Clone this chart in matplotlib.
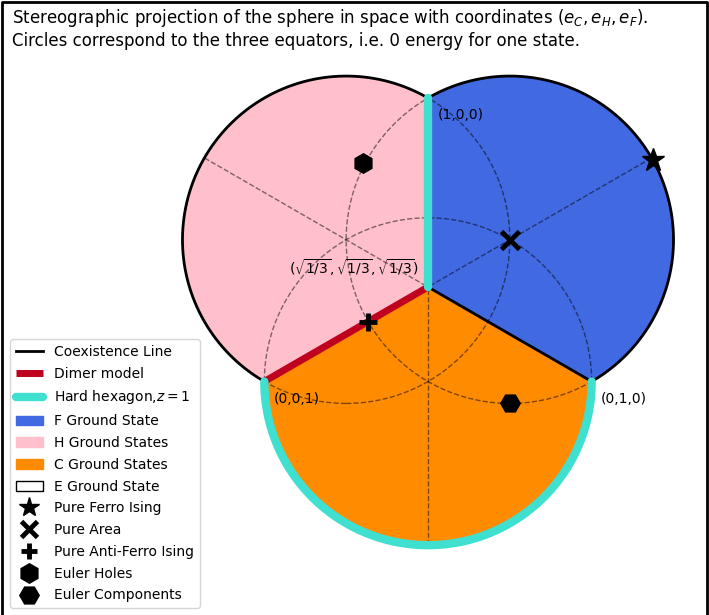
import numpy as np
import matplotlib
matplotlib.use('Agg')
import matplotlib.pyplot as plt
from matplotlib.lines import Line2D
from matplotlib.patches import Patch, Polygon, Circle

# three projected equators: centre direction (deg), centre distance, radius
circle_angles = [30, 150, 270]
circle_dist = 0.5
circle_radius = np.sqrt(3) / 2

# corner points of the projected octant
vertex_labels = ['(1,0,0)', '(0,1,0)', '(0,0,1)']
vertex_angles = [90, 330, 210]
center_label = r'$(\sqrt{1/3},\sqrt{1/3},\sqrt{1/3})$'

# special points (projected plane coordinates)
ferro_pt = (1.19, 0.67)
area_pt = (0.433, 0.25)
antiferro_pt = (-0.317, -0.183)
euler_holes_pt = (-0.342, 0.655)
euler_comp_pt = (0.433, -0.616)

c_blue = 'royalblue'
c_pink = 'pink'
c_orange = 'darkorange'
c_cyan = 'turquoise'
c_red = '#c0001f'


def center(k):
    a = np.radians(circle_angles[k])
    return np.array([circle_dist * np.cos(a), circle_dist * np.sin(a)])


def arc(k, a0, a1, n=200):
    t = np.radians(np.linspace(a0, a1, n))
    c = center(k)
    return np.column_stack([c[0] + circle_radius * np.cos(t), c[1] + circle_radius * np.sin(t)])


def vert(ang):
    a = np.radians(ang)
    return np.array([np.cos(a), np.sin(a)])


O = np.array([0.0, 0.0])
A, B, C = [vert(a) for a in vertex_angles]

fig = plt.figure(figsize=(7.09, 6.15), dpi=100)
s = 189.0
ox, oy = 428.0, 287.0
ax = fig.add_axes([0, 0, 1, 1])
ax.set_xlim(-ox / s, (709 - ox) / s)
ax.set_ylim(-(615 - oy) / s, oy / s)
ax.axis('off')

# regions
blue_arc = arc(0, 120, -60)
pink_arc = arc(1, 60, 240)
orange_arc = arc(2, 180, 360)
ax.add_patch(Polygon(np.vstack([O, blue_arc, O]), closed=True, fc=c_blue, ec='none', zorder=1))
ax.add_patch(Polygon(np.vstack([O, pink_arc, O]), closed=True, fc=c_pink, ec='none', zorder=1))
ax.add_patch(Polygon(np.vstack([O, orange_arc, O]), closed=True, fc=c_orange, ec='none', zorder=1))

# dashed equators and symmetry lines
for k in range(3):
    ax.add_patch(Circle(center(k), circle_radius, fill=False, ls='--', lw=1, ec='black', alpha=0.5, zorder=2))
    u = vert(circle_angles[k])
    p0 = -1.0 * u
    p1 = (circle_dist + circle_radius) * u
    ax.plot([p0[0], p1[0]], [p0[1], p1[1]], ls='--', lw=1, color='black', alpha=0.5, zorder=2)

# coexistence lines
ax.plot(blue_arc[:, 0], blue_arc[:, 1], color='black', lw=2, zorder=3)
ax.plot(pink_arc[:, 0], pink_arc[:, 1], color='black', lw=2, zorder=3)
ax.plot([O[0], B[0]], [O[1], B[1]], color='black', lw=2, zorder=3)

# dimer model
ax.plot([O[0], C[0]], [O[1], C[1]], color=c_red, lw=5, zorder=4, solid_capstyle='butt')

# hard hexagon
ax.plot([O[0], A[0]], [O[1], A[1]], color=c_cyan, lw=6, zorder=4, solid_capstyle='round')
ax.plot(orange_arc[:, 0], orange_arc[:, 1], color=c_cyan, lw=6, zorder=4, solid_capstyle='round')

# special points
ax.plot(*ferro_pt, marker='*', color='black', ms=17, ls='none', zorder=5)
ax.plot(*area_pt, marker='x', color='black', ms=13, mew=3.5, ls='none', zorder=5)
ax.plot(*antiferro_pt, marker='+', color='black', ms=13, mew=3.5, ls='none', zorder=5)
ax.plot(*euler_holes_pt, marker='h', color='black', ms=14, ls='none', zorder=5)
ax.plot(*euler_comp_pt, marker='H', color='black', ms=14, ls='none', zorder=5)

# labels
for lab, ang in zip(vertex_labels, vertex_angles):
    p = vert(ang)
    ax.text(p[0] + 0.05, p[1] - 0.09, lab, ha='left', va='center', fontsize=10, zorder=6)
ax.text(-0.05, 0.05, center_label, ha='right', va='bottom', fontsize=10, zorder=6)

fig.text(12 / 709, 1 - 7 / 615,
         'Stereographic projection of the sphere in space with coordinates $(e_C, e_H, e_F)$.\n'
         'Circles correspond to the three equators, i.e. 0 energy for one state.',
         ha='left', va='top', fontsize=12)

# frame around the figure (bottom edge cut off)
fig.add_artist(Line2D([2 / 709, 2 / 709, 707 / 709, 707 / 709], [0, 1 - 2 / 615, 1 - 2 / 615, 0],
                      transform=fig.transFigure, color='black', lw=2))

handles = [
    Line2D([0], [0], color='black', lw=2),
    Line2D([0], [0], color=c_red, lw=5, solid_capstyle='butt'),
    Line2D([0], [0], color=c_cyan, lw=6, solid_capstyle='round'),
    Patch(fc=c_blue, ec=c_blue),
    Patch(fc=c_pink, ec=c_pink),
    Patch(fc=c_orange, ec=c_orange),
    Patch(fc='white', ec='black'),
    Line2D([0], [0], marker='*', color='black', ms=15, ls='none'),
    Line2D([0], [0], marker='x', color='black', ms=12, mew=3.5, ls='none'),
    Line2D([0], [0], marker='+', color='black', ms=12, mew=3.5, ls='none'),
    Line2D([0], [0], marker='h', color='black', ms=14, ls='none'),
    Line2D([0], [0], marker='H', color='black', ms=14, ls='none'),
]
labels = ['Coexistence Line', 'Dimer model', r'Hard hexagon,$z=1$', 'F Ground State',
          'H Ground States', 'C Ground States', 'E Ground State', 'Pure Ferro Ising',
          'Pure Area', 'Pure Anti-Ferro Ising', 'Euler Holes', 'Euler Components']
ax.legend(handles, labels, loc='lower left', bbox_to_anchor=(10 / 709, 7 / 615),
          bbox_transform=fig.transFigure, borderaxespad=0, fontsize=10, labelspacing=0.56)

fig.savefig('out.png', dpi=100)
